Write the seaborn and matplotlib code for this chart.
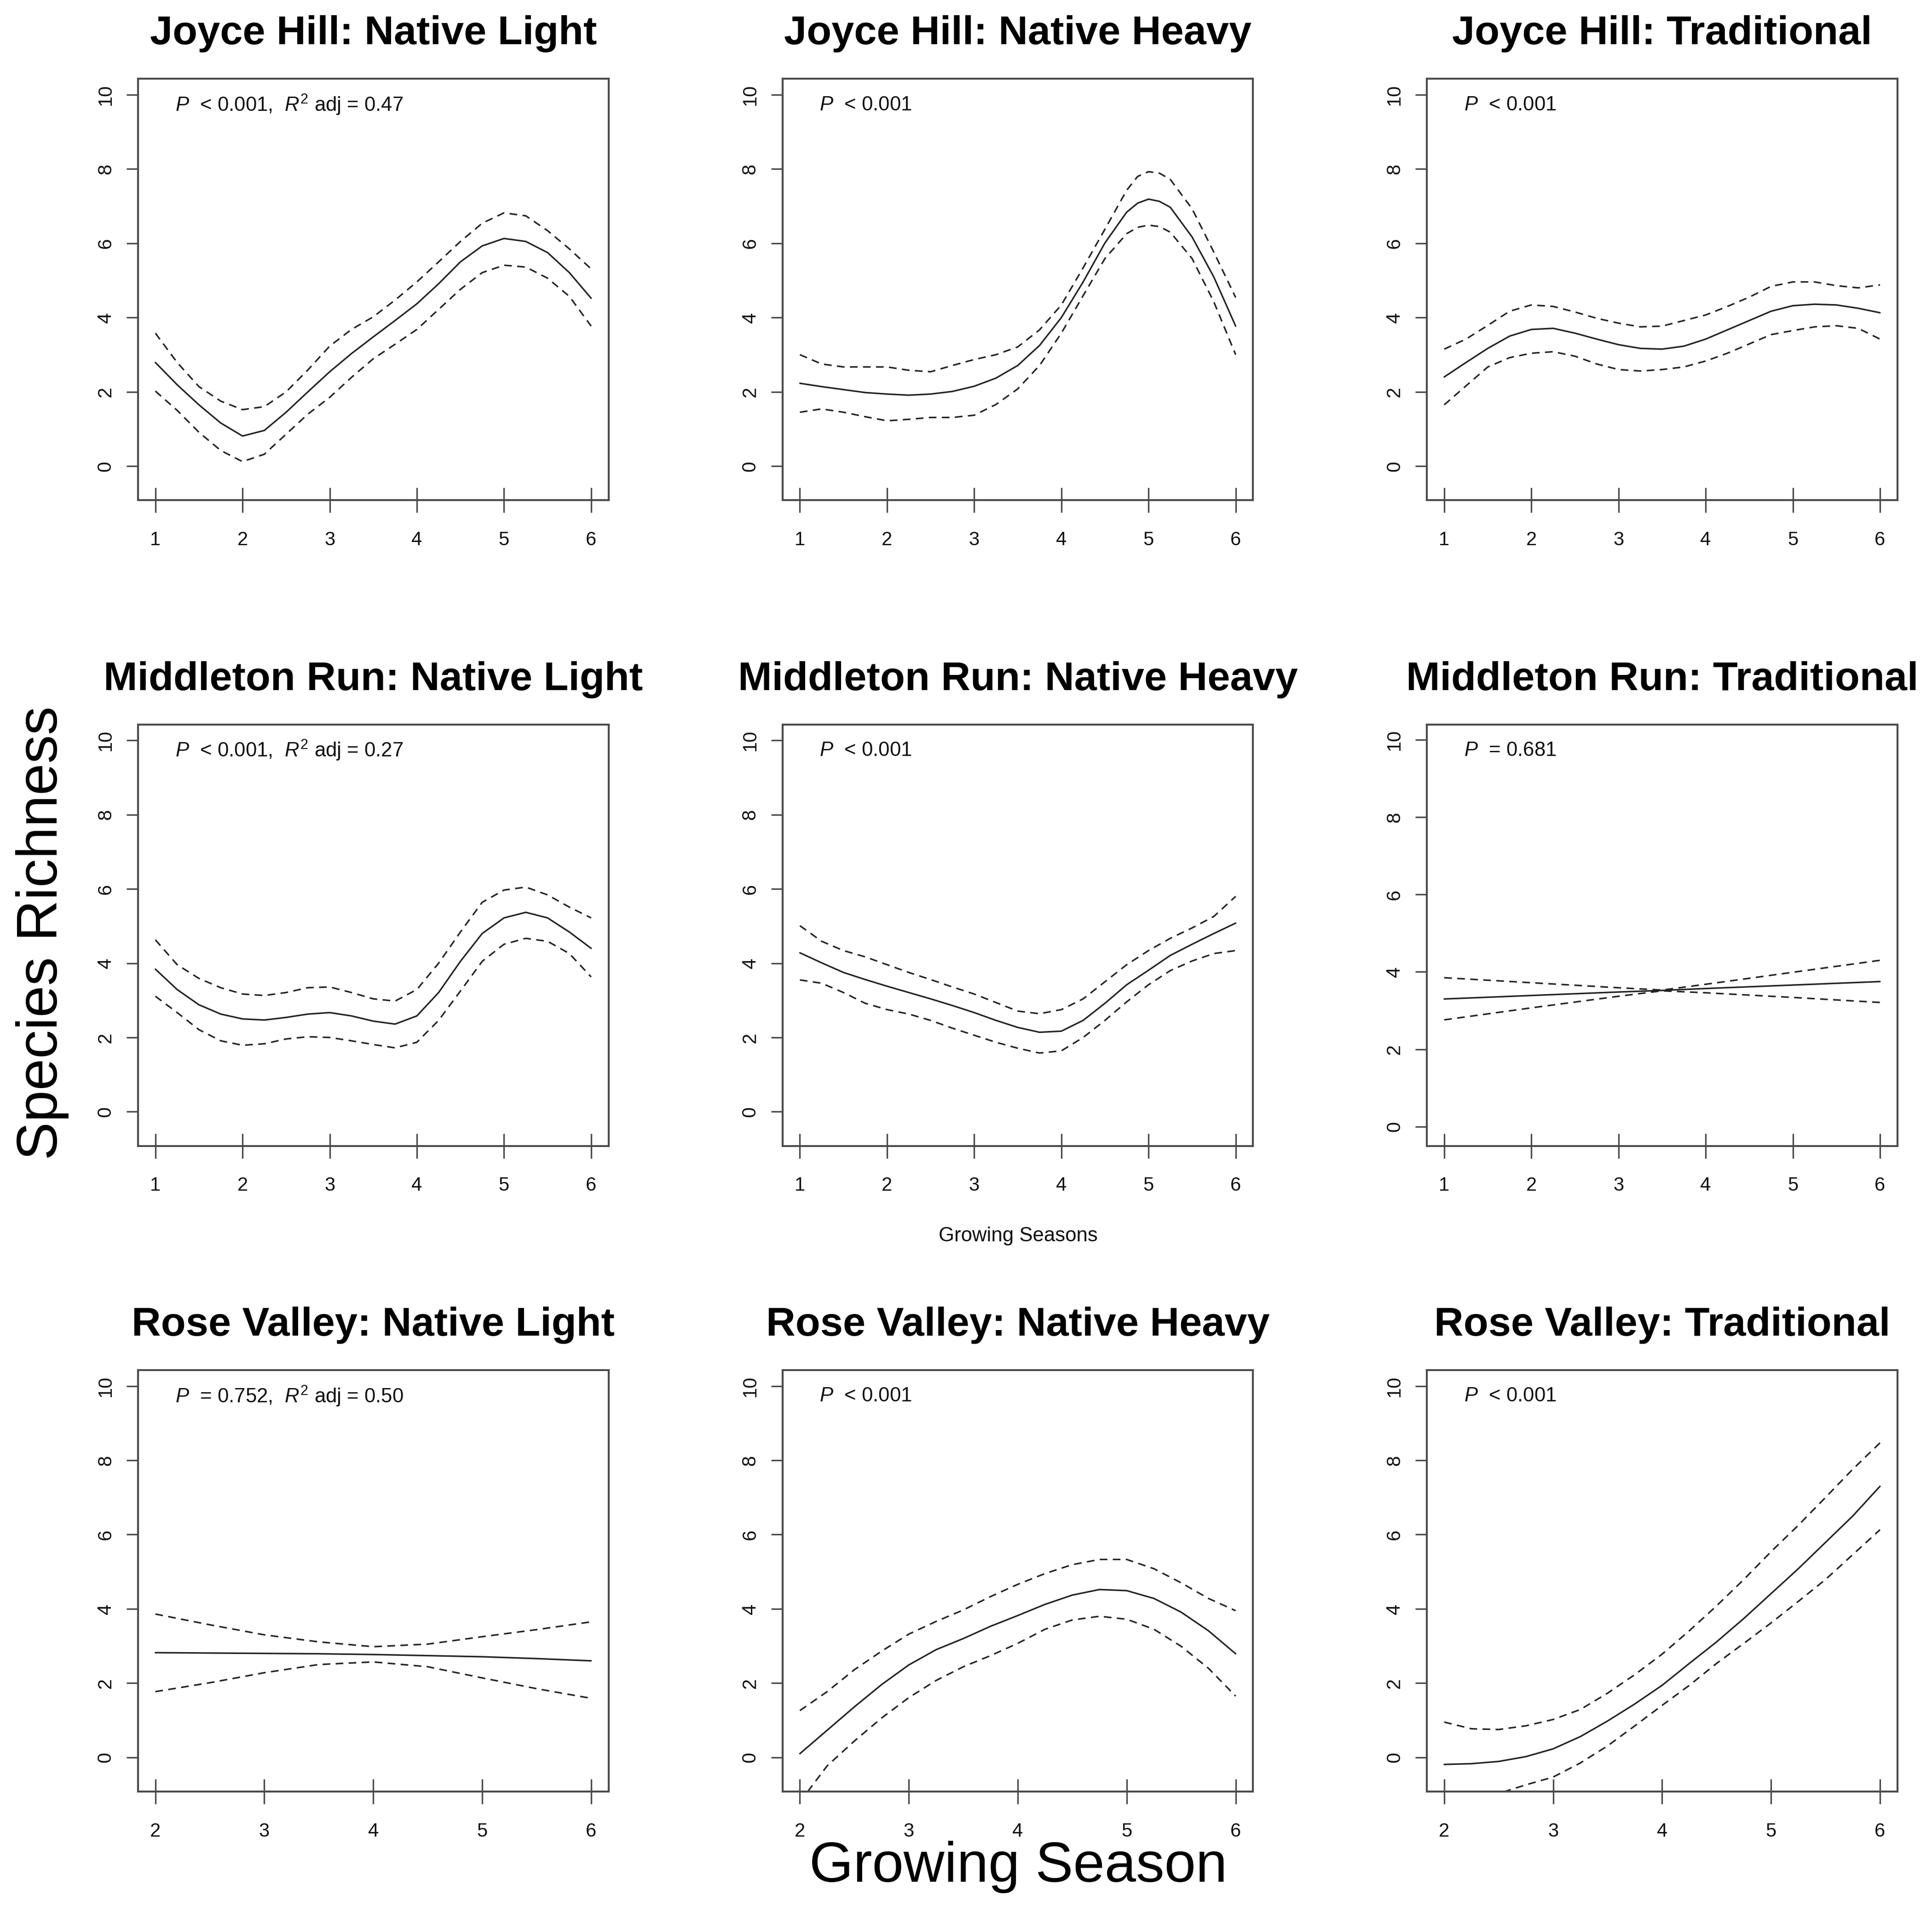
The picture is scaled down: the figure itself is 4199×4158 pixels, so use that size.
import numpy as np
import pandas as pd
import matplotlib
matplotlib.use("Agg")
import matplotlib.pyplot as plt
import seaborn as sns

SEASONS_A = [1, 1.25, 1.5, 1.75, 2, 2.25, 2.5, 2.75, 3, 3.25, 3.5,
             3.75, 4, 4.25, 4.5, 4.75, 5, 5.25, 5.5, 5.75, 6]
SEASONS_JH_NH = [1, 1.25, 1.5, 1.75, 2, 2.25, 2.5, 2.75, 3, 3.25, 3.5,
                 3.75, 4, 4.25, 4.5, 4.75, 4.875, 5, 5.125, 5.25, 5.5, 5.75, 6]
SEASONS_B = [2, 2.25, 2.5, 2.75, 3, 3.25, 3.5, 3.75, 4, 4.25, 4.5,
             4.75, 5, 5.25, 5.5, 5.75, 6]
SEASONS_MR_TRAD = [1, 2, 3, 3.5, 4, 5, 6]
SEASONS_RV_NL = [2, 2.5, 3, 3.5, 4, 4.5, 5, 5.5, 6]

# Joyce Hill: Native Light
JH_NL_FIT = [2.79, 2.19, 1.65, 1.16, 0.81, 0.96, 1.45, 2.00, 2.54, 3.03, 3.48,
             3.92, 4.37, 4.91, 5.50, 5.93, 6.13, 6.05, 5.75, 5.21, 4.52]
JH_NL_UP = [3.58, 2.79, 2.14, 1.75, 1.52, 1.60, 2.00, 2.59, 3.23, 3.68, 4.02,
            4.47, 4.96, 5.50, 6.05, 6.54, 6.82, 6.74, 6.34, 5.85, 5.31]
JH_NL_LO = [2.02, 1.50, 0.91, 0.42, 0.12, 0.32, 0.86, 1.40, 1.85, 2.39, 2.89,
            3.28, 3.68, 4.22, 4.76, 5.21, 5.41, 5.36, 5.06, 4.57, 3.77]

# Joyce Hill: Native Heavy
JH_NH_FIT = [2.23, 2.14, 2.06, 1.98, 1.94, 1.91, 1.94, 2.01, 2.15, 2.37, 2.71,
             3.25, 4.00, 4.96, 6.01, 6.84, 7.08, 7.19, 7.13, 6.97, 6.17, 5.09, 3.77]
JH_NH_UP = [3.00, 2.75, 2.67, 2.67, 2.67, 2.58, 2.54, 2.71, 2.87, 3.00, 3.21,
            3.67, 4.34, 5.34, 6.38, 7.43, 7.80, 7.93, 7.89, 7.72, 6.93, 5.76, 4.54]
JH_NH_LO = [1.45, 1.54, 1.45, 1.33, 1.22, 1.26, 1.31, 1.31, 1.37, 1.66, 2.08,
            2.71, 3.58, 4.59, 5.59, 6.26, 6.43, 6.49, 6.45, 6.30, 5.59, 4.42, 3.00]

# Joyce Hill: Traditional
JH_TR_FIT = [2.40, 2.79, 3.17, 3.50, 3.68, 3.71, 3.58, 3.42, 3.27, 3.17, 3.15,
             3.23, 3.42, 3.67, 3.92, 4.17, 4.32, 4.36, 4.34, 4.25, 4.13]
JH_TR_UP = [3.15, 3.42, 3.79, 4.17, 4.34, 4.30, 4.15, 3.98, 3.85, 3.75, 3.77,
            3.92, 4.07, 4.30, 4.55, 4.84, 4.96, 4.96, 4.86, 4.80, 4.88]
JH_TR_LO = [1.65, 2.16, 2.67, 2.92, 3.04, 3.08, 2.96, 2.75, 2.60, 2.56, 2.60,
            2.67, 2.83, 3.04, 3.29, 3.54, 3.65, 3.75, 3.78, 3.71, 3.42]

# Middleton Run: Native Light
MR_NL_FIT = [3.84, 3.29, 2.88, 2.63, 2.50, 2.47, 2.54, 2.63, 2.67, 2.58, 2.44,
             2.36, 2.58, 3.21, 4.05, 4.80, 5.22, 5.37, 5.22, 4.84, 4.40]
MR_NL_UP = [4.63, 3.96, 3.59, 3.34, 3.17, 3.13, 3.21, 3.34, 3.36, 3.21, 3.04,
            2.98, 3.29, 4.00, 4.84, 5.64, 5.97, 6.05, 5.84, 5.51, 5.22]
MR_NL_LO = [3.11, 2.67, 2.21, 1.91, 1.79, 1.83, 1.96, 2.02, 2.00, 1.91, 1.81,
            1.72, 1.87, 2.46, 3.25, 4.05, 4.51, 4.67, 4.59, 4.26, 3.63]

# Middleton Run: Native Heavy
MR_NH_FIT = [4.28, 4.01, 3.75, 3.56, 3.38, 3.21, 3.04, 2.86, 2.67, 2.46, 2.27,
             2.14, 2.17, 2.46, 2.92, 3.42, 3.81, 4.21, 4.51, 4.80, 5.08]
MR_NH_UP = [5.01, 4.59, 4.34, 4.17, 3.96, 3.75, 3.56, 3.36, 3.17, 2.94, 2.71,
            2.64, 2.75, 3.04, 3.50, 3.96, 4.34, 4.67, 4.95, 5.26, 5.80]
MR_NH_LO = [3.55, 3.46, 3.21, 2.92, 2.75, 2.63, 2.46, 2.25, 2.06, 1.87, 1.71,
            1.58, 1.64, 2.00, 2.46, 2.96, 3.42, 3.80, 4.06, 4.26, 4.34]

# Middleton Run: Traditional
MR_TR_FIT = [3.30, 3.39, 3.48, 3.52, 3.57, 3.66, 3.75]
MR_TR_UP = [3.85, 3.72, 3.59, 3.53, 3.68, 3.99, 4.30]
MR_TR_LO = [2.76, 3.07, 3.37, 3.51, 3.46, 3.34, 3.21]

# Rose Valley: Native Light
RV_NL_FIT = [2.82, 2.81, 2.80, 2.79, 2.77, 2.74, 2.71, 2.66, 2.60]
RV_NL_UP = [3.86, 3.57, 3.30, 3.11, 2.98, 3.05, 3.25, 3.44, 3.65]
RV_NL_LO = [1.77, 2.01, 2.28, 2.50, 2.57, 2.44, 2.14, 1.85, 1.59]

# Rose Valley: Native Heavy
RV_NH_FIT = [0.10, 0.73, 1.36, 1.96, 2.49, 2.90, 3.20, 3.53, 3.82, 4.12, 4.37,
             4.52, 4.49, 4.28, 3.91, 3.41, 2.79]
RV_NH_UP = [1.26, 1.77, 2.36, 2.86, 3.32, 3.66, 3.97, 4.33, 4.66, 4.95, 5.19,
            5.33, 5.33, 5.08, 4.70, 4.28, 3.95]
RV_NH_LO = [-1.20, -0.23, 0.44, 1.06, 1.61, 2.07, 2.44, 2.74, 3.07, 3.45, 3.70,
            3.80, 3.72, 3.45, 2.99, 2.40, 1.65]

# Rose Valley: Traditional
RV_TR_FIT = [-0.19, -0.17, -0.11, 0.02, 0.23, 0.56, 0.98, 1.44, 1.94, 2.53, 3.11,
             3.74, 4.41, 5.08, 5.79, 6.50, 7.30]
RV_TR_UP = [0.95, 0.77, 0.75, 0.85, 1.02, 1.29, 1.73, 2.23, 2.78, 3.41, 4.08,
            4.79, 5.54, 6.25, 7.00, 7.76, 8.47]
RV_TR_LO = [-1.66, -1.28, -0.97, -0.74, -0.53, -0.15, 0.31, 0.85, 1.40, 1.94, 2.53,
            3.07, 3.62, 4.20, 4.79, 5.46, 6.13]

TITLES = ["Joyce Hill: Native Light", "Joyce Hill: Native Heavy", "Joyce Hill: Traditional",
          "Middleton Run: Native Light", "Middleton Run: Native Heavy", "Middleton Run: Traditional",
          "Rose Valley: Native Light", "Rose Valley: Native Heavy", "Rose Valley: Traditional"]
STATS = [r"$P$  < 0.001,  $R^2$ adj = 0.47", r"$P$  < 0.001", r"$P$  < 0.001",
         r"$P$  < 0.001,  $R^2$ adj = 0.27", r"$P$  < 0.001", r"$P$  = 0.681",
         r"$P$  = 0.752,  $R^2$ adj = 0.50", r"$P$  < 0.001", r"$P$  < 0.001"]
Y_TICKS = [0, 2, 4, 6, 8, 10]
X_TICKS_A = [1, 2, 3, 4, 5, 6]
X_TICKS_B = [2, 3, 4, 5, 6]

panels = [
    (SEASONS_A, JH_NL_FIT, JH_NL_UP, JH_NL_LO),
    (SEASONS_JH_NH, JH_NH_FIT, JH_NH_UP, JH_NH_LO),
    (SEASONS_A, JH_TR_FIT, JH_TR_UP, JH_TR_LO),
    (SEASONS_A, MR_NL_FIT, MR_NL_UP, MR_NL_LO),
    (SEASONS_A, MR_NH_FIT, MR_NH_UP, MR_NH_LO),
    (SEASONS_MR_TRAD, MR_TR_FIT, MR_TR_UP, MR_TR_LO),
    (SEASONS_RV_NL, RV_NL_FIT, RV_NL_UP, RV_NL_LO),
    (SEASONS_B, RV_NH_FIT, RV_NH_UP, RV_NH_LO),
    (SEASONS_B, RV_TR_FIT, RV_TR_UP, RV_TR_LO),
]

sns.set_theme(style="ticks")
plt.rcParams["font.family"] = ["Liberation Sans", "DejaVu Sans"]
plt.rcParams["mathtext.fontset"] = "custom"
plt.rcParams["mathtext.rm"] = "Liberation Sans"
plt.rcParams["mathtext.it"] = "Liberation Sans:italic"
plt.rcParams["mathtext.bf"] = "Liberation Sans:bold"
plt.rcParams["lines.solid_joinstyle"] = "round"
plt.rcParams["lines.dash_joinstyle"] = "round"

LINE = "#222222"
FRAME = "#4a4a4a"

fig = plt.figure(figsize=(4199 / 300, 4158 / 300), dpi=300)
fig.patch.set_facecolor("white")

lefts = [0.0714, 0.4050, 0.7385]
bottoms = [0.7385, 0.4010, 0.0635]
w, h = 0.2436, 0.2203

for i, (x, fit, up, lo) in enumerate(panels):
    r, c = divmod(i, 3)
    ax = fig.add_axes([lefts[c], bottoms[r], w, h])
    ax.set_facecolor("white")

    n = len(x)
    df = pd.DataFrame({
        "season": list(x) * 3,
        "richness": list(fit) + list(up) + list(lo),
        "band": ["fit"] * n + ["upper"] * n + ["lower"] * n,
    })
    sns.lineplot(data=df, x="season", y="richness", style="band",
                 dashes={"fit": "", "upper": (5, 3.5), "lower": (5, 3.5)},
                 color=LINE, linewidth=0.8, estimator=None, sort=False,
                 legend=False, ax=ax)

    if r == 2:
        ax.set_xlim(1.84, 6.16)
        ax.set_xticks(X_TICKS_B)
    else:
        ax.set_xlim(0.8, 6.2)
        ax.set_xticks(X_TICKS_A)
    if i == 5:
        ax.set_ylim(-0.5, 10.4)
    else:
        ax.set_ylim(-0.92, 10.43)
    ax.set_yticks(Y_TICKS)
    ax.set_xlabel("")
    ax.set_ylabel("")

    for sp in ax.spines.values():
        sp.set_visible(True)
        sp.set_color(FRAME)
        sp.set_linewidth(1.0)
    ax.tick_params(axis="x", direction="inout", length=13, width=0.8,
                   color=FRAME, pad=9.5, labelsize=10, labelcolor="#111111")
    ax.tick_params(axis="y", direction="out", length=6, width=0.8,
                   color=FRAME, pad=6, labelsize=10, labelcolor="#111111",
                   labelrotation=90)
    for lab in ax.get_yticklabels():
        lab.set_va("center")

    ax.set_title(TITLES[i], fontsize=21.2, fontweight="bold", pad=18, color="black")
    ax.text(0.079, 0.938, STATS[i], transform=ax.transAxes, ha="left",
            va="center", fontsize=10.5, color="#111111")

fig.text(0.527, 0.354, "Growing Seasons", ha="center", va="center",
         fontsize=10.5, color="#111111")
fig.text(0.022, 0.5124, "Species Richness", rotation=90, ha="center",
         va="center", fontsize=29.8, color="black")
fig.text(0.527, 0.024, "Growing Season", ha="center", va="center",
         fontsize=29.5, color="black")

fig.savefig("out.png", dpi=300, facecolor="white")
